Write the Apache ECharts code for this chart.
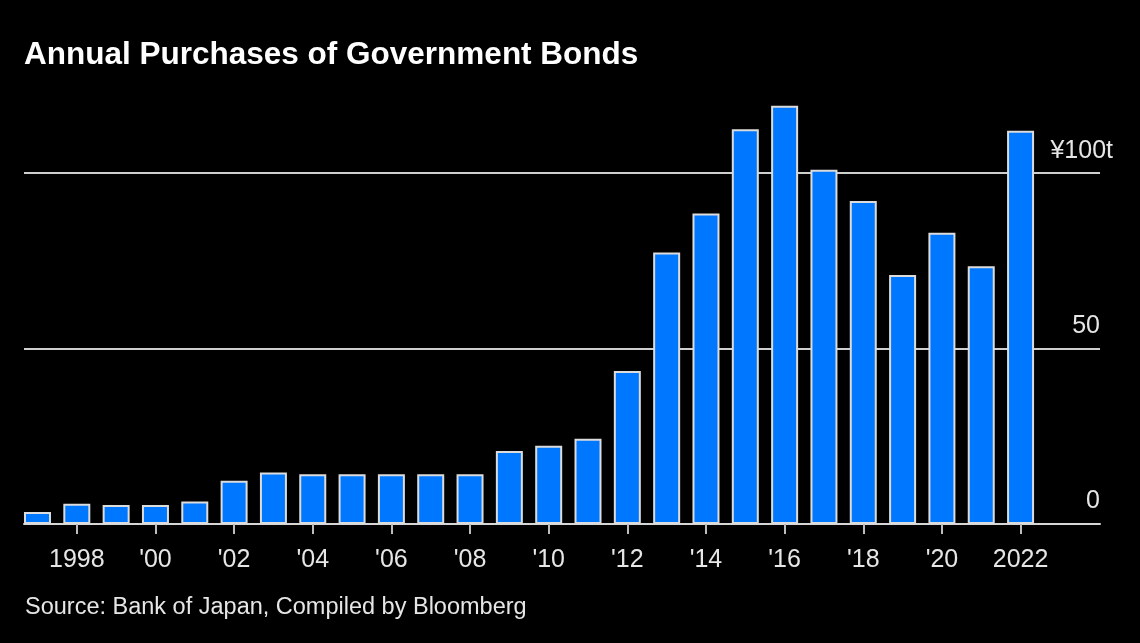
<!DOCTYPE html>
<html>
<head>
<meta charset="utf-8">
<script src="https://cdn.jsdelivr.net/npm/echarts@6/dist/echarts.min.js"></script>
<style>
  html, body { margin: 0; padding: 0; background: #000; }
  #chart { width: 1140px; height: 643px; }
</style>
</head>
<body>
<div id="chart"></div>
<script>
const years = [1997, 1998, 1999, 2000, 2001, 2002, 2003, 2004, 2005, 2006, 2007, 2008, 2009,
               2010, 2011, 2012, 2013, 2014, 2015, 2016, 2017, 2018, 2019, 2020, 2021, 2022];
const purchases = [3.4, 5.8, 5.4, 5.4, 6.4, 12.3, 14.7, 14.2, 14.2, 14.2, 14.2, 14.2, 20.8,
                   22.3, 24.3, 43.6, 77.4, 88.5, 112.5, 119.2, 101.0, 92.1, 71.0, 83.0, 73.5, 112.1];
const xTickYears = [1998, 2000, 2002, 2004, 2006, 2008, 2010, 2012, 2014, 2016, 2018, 2020, 2022];
const xTickLabels = ['1998', "'00", "'02", "'04", "'06", "'08", "'10", "'12", "'14", "'16", "'18", "'20", '2022'];
const yTickValues = [0, 50, 100];
const yTickLabels = ['0', '50', '¥100t'];
const titleText = 'Annual Purchases of Government Bonds';
const sourceText = 'Source: Bank of Japan, Compiled by Bloomberg';

const chart = echarts.init(document.getElementById('chart'), null, { renderer: 'canvas' });
const FONT = '"Liberation Sans", Arial, Helvetica, sans-serif';

chart.setOption({
  backgroundColor: '#000',
  animation: false,
  title: [
    { text: titleText, left: 24, top: 39, padding: 0,
      textStyle: { color: '#fff', fontFamily: FONT, fontWeight: 'bold', fontSize: 31.5 } },
    { text: sourceText, left: 25, top: 596, padding: 0,
      textStyle: { color: '#e6e6e6', fontFamily: FONT, fontWeight: 'normal', fontSize: 23.5 } }
  ],
  grid: { left: 24, right: 40, top: 103, bottom: 119, containLabel: false },
  xAxis: {
    type: 'value',
    min: 1996.657,
    max: 2024.02,
    splitLine: { show: false },
    axisLine: { show: true, lineStyle: { color: '#d6d6d6', width: 2 } },
    axisTick: { show: true, customValues: xTickYears, length: 10, lineStyle: { color: '#bdbdbd', width: 2 } },
    axisLabel: {
      show: true, customValues: xTickYears, margin: 24,
      color: '#e6e6e6', fontFamily: FONT, fontSize: 25,
      formatter: function (v) {
        const i = xTickYears.indexOf(Math.round(v));
        return i >= 0 ? xTickLabels[i] : '';
      }
    }
  },
  yAxis: {
    type: 'value',
    position: 'right',
    min: 0, max: 120, interval: 50,
    axisLine: { show: false },
    axisTick: { show: false },
    splitLine: { show: true, showMinLine: false, showMaxLine: false,
                 lineStyle: { color: '#cfcfcf', width: 2 } },
    axisLabel: {
      show: true, inside: true, margin: 0,
      showMaxLabel: false,
      verticalAlign: 'bottom', align: 'right',
      padding: [0, 0, 10, 0],
      color: '#e6e6e6', fontFamily: FONT, fontSize: 25,
      formatter: function (v) {
        const i = yTickValues.indexOf(v);
        if (i < 0) return '';
        if (v === 100) return '{u|' + yTickLabels[i] + '}';
        return yTickLabels[i];
      },
      rich: {
        u: { color: '#e6e6e6', fontFamily: FONT, fontSize: 25, padding: [0, -13, 0, 0] }
      }
    }
  },
  series: [{
    type: 'bar',
    data: years.map(function (y, i) { return [y, purchases[i]]; }),
    barWidth: 27,
    itemStyle: { color: '#0077ff', borderColor: '#dcdcdc', borderWidth: 2 },
    z: 3
  }]
});
</script>
</body>
</html>
